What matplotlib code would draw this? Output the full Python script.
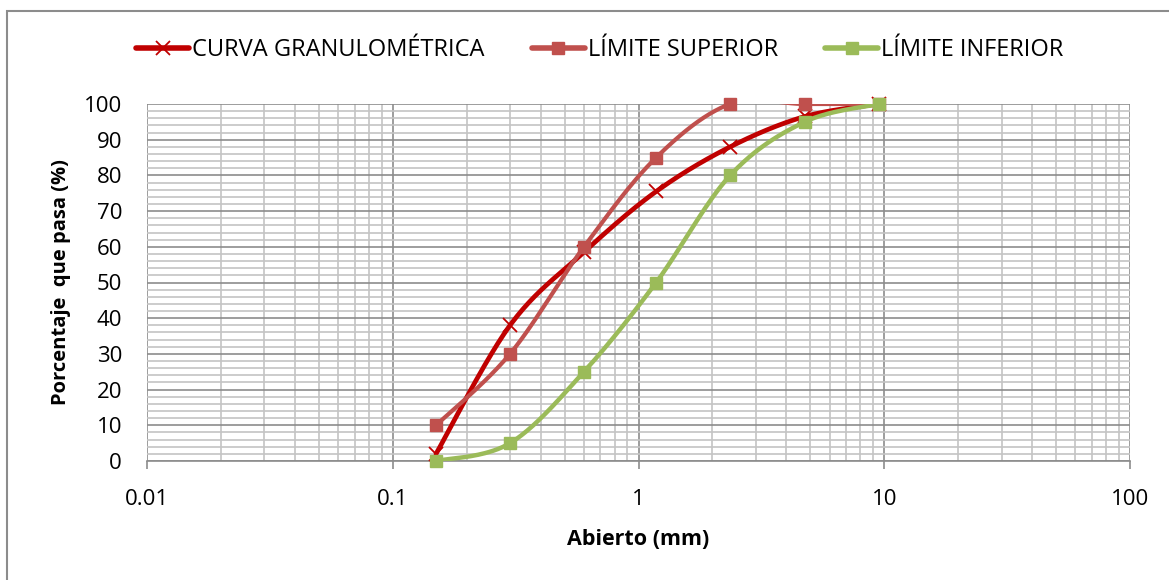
import numpy as np
import matplotlib
matplotlib.use("Agg")
import matplotlib.pyplot as plt
from matplotlib.ticker import FixedLocator, NullFormatter
from matplotlib.patches import Rectangle

# Data (sieve openings in mm, percent passing)
aberturas = [0.15, 0.3, 0.6, 1.18, 2.36, 4.75, 9.5]
curva = [2, 38, 58.5, 75.5, 88, 96.5, 100]
lim_superior = [10, 30, 60, 85, 100, 100, 100]
lim_inferior = [0, 5, 25, 50, 80, 95, 100]

plt.rcParams['font.family'] = ['Open Sans', 'DejaVu Sans']


def smooth_line(ax, xs, ys, n=40):
    """Excel-style smoothed line (Catmull-Rom in display space)."""
    pts = ax.transData.transform(np.column_stack([xs, ys]))
    p = np.vstack([pts[0], pts, pts[-1]])
    out = []
    t = np.linspace(0, 1, n)[:, None]
    for i in range(1, len(p) - 2):
        p0, p1, p2, p3 = p[i - 1], p[i], p[i + 1], p[i + 2]
        c1 = p1 + (p2 - p0) / 6
        c2 = p2 - (p3 - p1) / 6
        seg = ((1 - t) ** 3) * p1 + 3 * ((1 - t) ** 2) * t * c1 + 3 * (1 - t) * t ** 2 * c2 + t ** 3 * p2
        out.append(seg)
    out = np.vstack(out)
    d = ax.transData.inverted().transform(out)
    return d[:, 0], d[:, 1]


fig = plt.figure(figsize=(11.69, 5.80), dpi=100)
ax = fig.add_axes([147 / 1169, 1 - 461 / 580, (1130 - 147) / 1169, (461 - 104) / 580])

ax.set_xscale('log')
ax.set_xlim(0.01, 100)
ax.set_ylim(0, 100)

# grid
ax.yaxis.set_major_locator(FixedLocator(np.arange(0, 101, 10)))
ax.yaxis.set_minor_locator(FixedLocator(np.arange(0, 101, 2)))
ax.xaxis.set_major_locator(FixedLocator([0.01, 0.1, 1, 10, 100]))
ax.xaxis.set_minor_locator(FixedLocator([m * 10.0 ** e for e in range(-2, 2) for m in range(2, 10)]))
ax.xaxis.set_minor_formatter(NullFormatter())
ax.set_xticklabels(['0.01', '0.1', '1', '10', '100'])
ax.grid(True, which='major', color='#8c8c8c', linewidth=1.2)
ax.grid(True, which='minor', color='#c4c4c4', linewidth=1.2)
ax.set_axisbelow(True)
ax.tick_params(axis='x', which='major', length=6, color='#8c8c8c', width=1.2, pad=14, labelsize=16)
ax.tick_params(axis='x', which='minor', length=0)
ax.tick_params(axis='y', which='both', length=0, pad=18, labelsize=16)
for s in ['top', 'right', 'left']:
    ax.spines[s].set_visible(False)
ax.spines['bottom'].set_color('#8c8c8c')
ax.spines['bottom'].set_linewidth(1.2)

series = [
    (curva, '#C00000', 'x', 'CURVA GRANULOMÉTRICA', 3.4, 3),
    (lim_superior, '#C0504D', 's', 'LÍMITE SUPERIOR', 3.0, 4),
    (lim_inferior, '#9BBB59', 's', 'LÍMITE INFERIOR', 3.2, 5),
]
handles = []
for ys, col, mk, lab, lw, z in series:
    sx, sy = smooth_line(ax, aberturas, ys)
    ax.plot(sx, sy, color=col, lw=lw, solid_capstyle='round', zorder=z, clip_on=True)
    if mk == 'x':
        ax.plot(aberturas, ys, ls='none', marker='x', ms=10, mew=1.3, color=col, zorder=z + 0.5, clip_on=False)
        h, = ax.plot([], [], color=col, lw=4, marker='x', ms=10, mew=1.3, solid_capstyle='round')
    else:
        ax.plot(aberturas, ys, ls='none', marker='s', ms=8, color=col, zorder=z + 0.5, clip_on=False)
        h, = ax.plot([], [], color=col, lw=4, marker='s', ms=8, solid_capstyle='round')
    handles.append((h, lab))

fig.legend([h for h, _ in handles], [l for _, l in handles], loc='center', ncol=3,
           bbox_to_anchor=(0.513, 1 - 50 / 580), frameon=False, fontsize=17,
           handlelength=2.25, handletextpad=0.12, columnspacing=2.0)

ax.set_xlabel('Abierto (mm)', fontsize=15.5, fontweight='bold', labelpad=14)
ax.set_ylabel('Porcentaje  que pasa (%)', fontsize=14.5, fontweight='bold', labelpad=9)

# outer chart frame
fig.patches.append(Rectangle((7 / 1169, -0.1), 1.2, (1 - 11 / 580) + 0.1, transform=fig.transFigure,
                             fill=False, edgecolor='#8c8c8c', linewidth=1.5))

fig.savefig('out.png', dpi=100, facecolor='white')
